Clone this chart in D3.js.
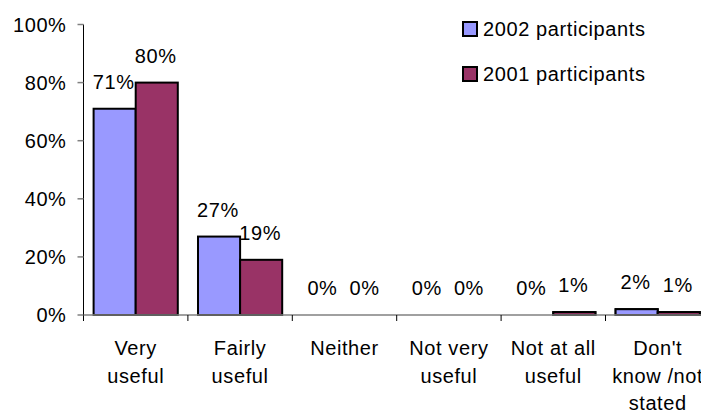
<!DOCTYPE html>
<html>
<head>
<meta charset="utf-8">
<script src="https://cdn.jsdelivr.net/npm/d3@7"></script>
<style>
  html, body { margin: 0; padding: 0; background: #fff; }
  svg { display: block; font-family: "Liberation Sans", Arial, sans-serif; }
  svg text { letter-spacing: 0.6px; }
</style>
</head>
<body>
<svg id="chart" width="701" height="412"></svg>
<script>
// Usefulness ratings, share of participants
const categories = [
  ["Very", "useful"],
  ["Fairly", "useful"],
  ["Neither"],
  ["Not very", "useful"],
  ["Not at all", "useful"],
  ["Don't", "know /not", "stated"]
];
const seriesNames = ["2002 participants", "2001 participants"];
const values2002 = [71, 27, 0, 0, 0, 2];
const values2001 = [80, 19, 0, 0, 1, 1];
const yTicks = [0, 20, 40, 60, 80, 100];
const colors = ["#9999FF", "#993366"];

const svg = d3.select("#chart");
const W = 701;
const x0 = 83.5, y0 = 315, yTop = 24.5, step = 104.4;

const catIdx = categories.map((d, i) => i);
const x = d3.scaleBand().domain(catIdx).range([x0, x0 + step * categories.length]).paddingInner(0).paddingOuter(0);
const xs = d3.scaleBand().domain([0, 1]).range([0, x.bandwidth()]).paddingInner(0).paddingOuter(0.24);
const y = d3.scaleLinear().domain([0, 100]).range([y0, yTop]);

const series = [values2002, values2001];

// Bars
const groups = svg.append("g").selectAll("g")
  .data(catIdx).join("g")
  .attr("transform", i => `translate(${x(i)},0)`);

groups.selectAll("rect")
  .data(i => series.map((s, k) => ({ k, v: s[i] })))
  .join("rect")
  .attr("x", d => xs(d.k))
  .attr("width", xs.bandwidth())
  .attr("y", d => y(d.v))
  .attr("height", d => y0 - y(d.v))
  .attr("fill", d => colors[d.k])
  .attr("stroke", d => d.v > 0 ? "#000" : "none")
  .attr("stroke-width", 2);

// X axis line
svg.append("line")
  .attr("x1", x0).attr("x2", W)
  .attr("y1", y0).attr("y2", y0)
  .attr("stroke", "#808080").attr("stroke-width", 1.5);

// Redraw tiny bars on top of the axis line
groups.selectAll("rect.top")
  .data(i => series.map((s, k) => ({ k, v: s[i] })).filter(d => d.v > 0 && d.v < 5))
  .join("rect")
  .attr("class", "top")
  .attr("x", d => xs(d.k))
  .attr("width", xs.bandwidth())
  .attr("y", d => y(d.v))
  .attr("height", d => y0 - y(d.v))
  .attr("fill", d => colors[d.k])
  .attr("stroke", "#000")
  .attr("stroke-width", 2);

// X ticks at category boundaries
svg.append("g").selectAll("line")
  .data(catIdx)
  .join("line")
  .attr("x1", i => x(i)).attr("x2", i => x(i))
  .attr("y1", y0).attr("y2", y0 + 6)
  .attr("stroke", "#000").attr("stroke-width", 1);

// Y axis
svg.append("line")
  .attr("x1", x0).attr("x2", x0)
  .attr("y1", yTop).attr("y2", y0 + 6)
  .attr("stroke", "#000").attr("stroke-width", 1);

svg.append("g").selectAll("line")
  .data(yTicks)
  .join("line")
  .attr("x1", x0 - 6).attr("x2", x0)
  .attr("y1", d => y(d)).attr("y2", d => y(d))
  .attr("stroke", "#808080").attr("stroke-width", 1.5);

svg.append("g").selectAll("text")
  .data(yTicks)
  .join("text")
  .attr("x", 66.5)
  .attr("y", d => y(d))
  .attr("dy", "0.36em")
  .attr("text-anchor", "end")
  .attr("font-size", 20)
  .attr("fill", "#000")
  .text(d => d + "%");

// Value labels
groups.selectAll("text.val")
  .data(i => series.map((s, k) => ({ k, v: s[i] })))
  .join("text")
  .attr("class", "val")
  .attr("x", d => xs(d.k) + xs.bandwidth() / 2 - 1)
  .attr("y", d => y(d.v) - 20)
  .attr("text-anchor", "middle")
  .attr("font-size", 20)
  .attr("fill", "#000")
  .text(d => d.v + "%");

// Category labels
const catLabels = svg.append("g").selectAll("text")
  .data(catIdx)
  .join("text")
  .attr("text-anchor", "middle")
  .attr("font-size", 20)
  .attr("fill", "#000");
catLabels.selectAll("tspan")
  .data(i => categories[i].map((line, j) => ({ i, line, j })))
  .join("tspan")
  .attr("x", d => x(d.i) + x.bandwidth() / 2)
  .attr("y", d => 355 + d.j * 27.7)
  .text(d => d.line);

// Legend
const legend = svg.append("g").selectAll("g")
  .data(seriesNames)
  .join("g")
  .attr("transform", (d, k) => `translate(463,${22 + k * 45})`);
legend.append("rect")
  .attr("width", 14).attr("height", 14)
  .attr("fill", (d, k) => colors[k])
  .attr("stroke", "#000").attr("stroke-width", 2);
legend.append("text")
  .attr("x", 20).attr("y", 14)
  .attr("font-size", 20)
  .attr("fill", "#000")
  .text(d => d);
</script>
</body>
</html>
